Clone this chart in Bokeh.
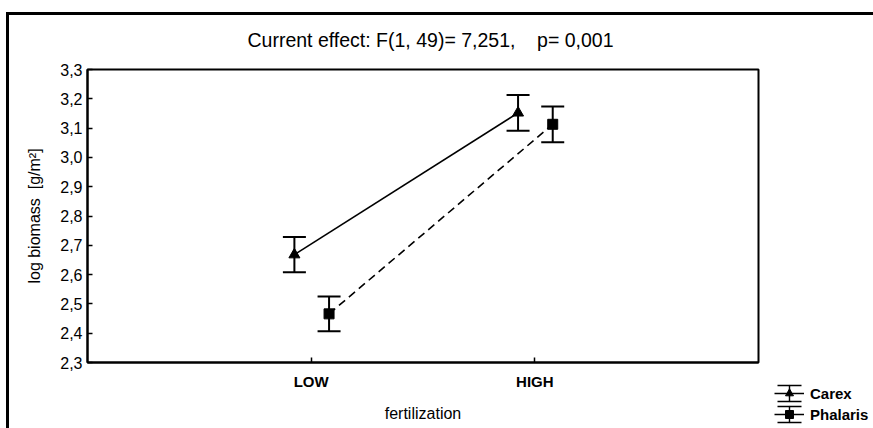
from bokeh.plotting import figure
from bokeh.models import (ColumnDataSource, Whisker, TeeHead, FixedTicker, Range1d, Title,
                          CustomJSTickFormatter, Legend, LegendItem, InlineStyleSheet)
from bokeh.embed import file_html
from bokeh.resources import INLINE

# ---- data ----
levels = ["LOW", "HIGH"]
level_pos = [1, 2]
carex_mean = [2.668, 3.152]
carex_se = [0.060, 0.061]
phalaris_mean = [2.466, 3.113]
phalaris_se = [0.059, 0.061]
y_ticks = [2.3, 2.4, 2.5, 2.6, 2.7, 2.8, 2.9, 3.0, 3.1, 3.2, 3.3]
title_text = "Current effect: F(1, 49)= 7,251, \u00a0\u00a0\u00a0p= 0,001"
series_names = ["Carex", "Phalaris"]

FONT = "Liberation Sans"
W, H = 873, 428
FL, FR, FT, FB = 87, 758, 69, 362

p = figure(frame_width=FR - FL, frame_height=FB - FT,
           output_backend="svg", toolbar_location=None,
           x_range=Range1d(0, 3), y_range=Range1d(2.3, 3.3),
           min_border_left=FL, min_border_right=W - FR,
           min_border_top=FT, min_border_bottom=H - FB)
p.grid.visible = False
p.outline_line_color = "black"
p.outline_line_width = 2
p.background_fill_color = "white"
p.border_fill_color = "white"

# outer (clipped) border of the whole graphic
p.stylesheets = [InlineStyleSheet(css=(
    ":host::after { content: ''; position: absolute; left: 6px; top: 12px; right: 0; bottom: 0;"
    " border-left: 3px solid black; border-top: 3px solid black;"
    " pointer-events: none; z-index: 100; box-sizing: border-box; }"))]

# title (plus a thin spacer between title and frame)
p.add_layout(Title(text=" ", text_font_size="1px", standoff=8), "above")
p.title.text = title_text
p.title.text_font = FONT
p.title.text_font_size = "19.5px"
p.title.text_font_style = "normal"
p.title.text_color = "black"
p.title.align = "left"
p.title.offset = 247 - FL
p.title.standoff = 16

# axes
xa = p.xaxis[0]
xa.ticker = FixedTicker(ticks=level_pos)
xa.major_label_overrides = {pos: lab for pos, lab in zip(level_pos, levels)}
xa.axis_label = "fertilization"
ya = p.yaxis[0]
ya.ticker = FixedTicker(ticks=y_ticks)
ya.formatter = CustomJSTickFormatter(code="return tick.toFixed(1).replace('.', ',');")
ya.axis_label = "log biomass \u00a0[g/m\u00b2]"
for ax in (xa, ya):
    ax.axis_line_width = 2
    ax.major_tick_in = 5
    ax.major_tick_out = 0
    ax.major_tick_line_width = 1.5
    ax.minor_tick_line_color = None
    ax.major_label_text_font = FONT
    ax.axis_label_text_font = FONT
    ax.axis_label_text_font_style = "normal"
    ax.major_label_text_color = "black"
    ax.axis_label_text_color = "black"
    ax.axis_label_text_font_size = "16px"
xa.major_label_text_font_size = "15px"
ya.major_label_text_font_size = "16px"
xa.major_label_text_font_style = "bold"
xa.major_label_standoff = 10
xa.axis_label_standoff = 12
ya.major_label_standoff = 5
ya.axis_label_standoff = 14

off_c, off_p = -0.075, 0.08
xc = [x + off_c for x in level_pos]
xp = [x + off_p for x in level_pos]
src_c = ColumnDataSource(dict(x=xc, y=carex_mean,
                              lo=[m - s for m, s in zip(carex_mean, carex_se)],
                              hi=[m + s for m, s in zip(carex_mean, carex_se)]))
src_p = ColumnDataSource(dict(x=xp, y=phalaris_mean,
                              lo=[m - s for m, s in zip(phalaris_mean, phalaris_se)],
                              hi=[m + s for m, s in zip(phalaris_mean, phalaris_se)]))

p.line("x", "y", source=src_c, line_color="black", line_width=1.6)
p.line("x", "y", source=src_p, line_color="black", line_width=1.6, line_dash="8 5")
for src in (src_c, src_p):
    w = Whisker(source=src, base="x", upper="hi", lower="lo", dimension="height",
                line_color="black", line_width=2,
                upper_head=TeeHead(size=23, line_width=2, line_color="black"),
                lower_head=TeeHead(size=23, line_width=2, line_color="black"))
    p.add_layout(w)
r_tri = p.scatter("x", "y", source=src_c, marker="triangle", size=11, color="black")
r_sq = p.scatter("x", "y", source=src_p, marker="square", size=10, color="black")

# legend icon parts (error-bar symbol): caps, stem, centre line; placed off-range
GW, GH = 30, 20
off = ColumnDataSource(dict(x=[-100.0], y=[2.8]))
r_caps = p.rect("x", "y", width=1, height=1, source=off, fill_color=None,
                line_color="black", line_width=1.5,
                line_dash=f"{int(GW * 0.8)} {int(GH * 0.8)}")
r_stem = p.ellipse("x", "y", width=0.001, height=0.1, source=off, fill_color=None,
                   line_color="black", line_width=1.5)
r_mid = p.line(x=[-100, -99], y=[2.8, 2.8], line_color="black", line_width=1.5)

legend = Legend(items=[
    LegendItem(label=series_names[0], renderers=[r_caps, r_stem, r_mid, r_tri]),
    LegendItem(label=series_names[1], renderers=[r_caps, r_stem, r_mid, r_sq]),
], location=(16, -62), glyph_width=GW, glyph_height=GH, label_height=GH,
   spacing=1, padding=0, margin=0, label_standoff=6,
   border_line_color=None, background_fill_alpha=0,
   label_text_font=FONT, label_text_font_size="15px", label_text_font_style="bold",
   label_text_color="black")
p.add_layout(legend, "right")

open("out.html", "w").write(file_html(p, INLINE))
